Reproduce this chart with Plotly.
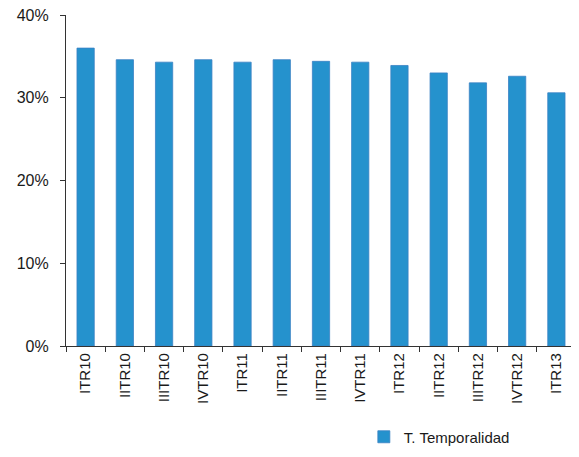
import plotly.graph_objects as go

categories = ["ITR10", "IITR10", "IIITR10", "IVTR10", "ITR11", "IITR11", "IIITR11",
              "IVTR11", "ITR12", "IITR12", "IIITR12", "IVTR12", "ITR13"]
temporalidad = [0.360, 0.346, 0.343, 0.346, 0.343, 0.346, 0.344,
                0.343, 0.339, 0.330, 0.318, 0.326, 0.306]
series_name = "T. Temporalidad"
y_ticks = [0, 0.1, 0.2, 0.3, 0.4]

fig = go.Figure()
fig.add_trace(go.Bar(
    x=categories, y=temporalidad, name=series_name,
    marker=dict(color="#2592CD", line=dict(color="#3A82C4", width=0.8)),
))

font_family = "Liberation Sans, Arial, sans-serif"
fig.update_layout(
    width=571, height=449,
    margin=dict(l=58, r=3, t=7, b=107),
    paper_bgcolor="white", plot_bgcolor="white",
    bargap=0.56,
    showlegend=True,
    legend=dict(orientation="h", x=0.584, y=-0.275, xanchor="left", yanchor="middle",
                font=dict(family=font_family, size=15, color="#1a1a1a"),
                itemwidth=30, tracegroupgap=0),
    font=dict(family=font_family, color="#1a1a1a"),
)
fig.update_xaxes(
    showline=True, linecolor="#333333", linewidth=1.2,
    ticks="outside", ticklen=5, tickcolor="#333333", tickson="boundaries",
    tickangle=-90, tickfont=dict(size=15, family=font_family, color="#1a1a1a"),
    showgrid=False, range=[-0.5, 12.5], automargin=False,
)
fig.update_yaxes(
    showline=True, linecolor="#333333", linewidth=1.2,
    ticks="outside", ticklen=5, tickcolor="#333333",
    tickvals=y_ticks, tickformat=".0%", range=[0, 0.4],
    tickfont=dict(size=16, family=font_family, color="#1a1a1a"),
    showgrid=False, zeroline=False, ticklabelstandoff=8,
    ticklabeloverflow="allow", automargin=False,
)
fig.write_html("out.html")
